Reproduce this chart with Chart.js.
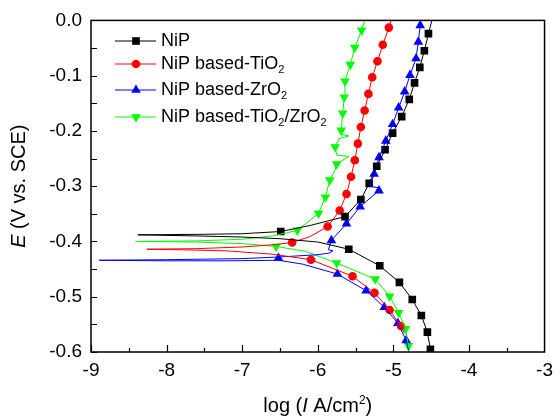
<!DOCTYPE html>
<html>
<head>
<meta charset="utf-8">
<script src="https://cdn.jsdelivr.net/npm/chart.js@4/dist/chart.umd.min.js"></script>
<style>
  html, body { margin: 0; padding: 0; background: #fff; }
</style>
</head>
<body>
<canvas id="chart" width="560" height="416"></canvas>
<script>
// Tick values
const xTicks = [-9, -8, -7, -6, -5, -4, -3];
const yTicks = [0, -0.1, -0.2, -0.3, -0.4, -0.5, -0.6];

// Series names (subscript digits handled when drawing the legend)
const seriesNames = ['NiP', 'NiP based-TiO_2', 'NiP based-ZrO_2', 'NiP based-TiO_2/ZrO_2'];

// NiP - curve (cathodic -> Ecorr -> anodic)
const nipX = [-4.50, -4.51, -4.55, -4.63, -4.75, -4.92, -5.18, -5.59, -6.0, -6.5, -7.0, -7.6, -8.38,
  -7.5, -7.0, -6.49, -6.1, -5.64, -5.43, -5.32, -5.22, -5.11, -5.01, -4.89, -4.79, -4.72, -4.65, -4.59, -4.536, -4.49];
const nipY = [-0.600, -0.595, -0.564, -0.534, -0.505, -0.474, -0.444, -0.414, -0.401, -0.395, -0.392, -0.390, -0.388,
  -0.387, -0.386, -0.382, -0.371, -0.355, -0.324, -0.295, -0.264, -0.234, -0.204, -0.174, -0.143, -0.113, -0.085, -0.055, -0.024, 0];
const nipMarkX = [-4.51, -4.55, -4.63, -4.75, -4.92, -5.18, -5.59, -6.49, -5.64, -5.43, -5.32, -5.22, -5.11, -5.01, -4.89, -4.79, -4.72, -4.65, -4.59, -4.536];
const nipMarkY = [-0.595, -0.564, -0.534, -0.505, -0.474, -0.444, -0.414, -0.382, -0.355, -0.324, -0.295, -0.264, -0.234, -0.204, -0.174, -0.143, -0.113, -0.085, -0.055, -0.024];

// NiP based-TiO2
const tiX = [-4.86, -4.90, -5.05, -5.25, -5.54, -6.09, -6.6, -7.2, -7.8, -8.26,
  -7.6, -7.0, -6.6, -6.34, -6.1, -5.87, -5.71, -5.62, -5.56, -5.51, -5.47, -5.43, -5.38, -5.33, -5.28, -5.21, -5.14, -5.06, -5.03];
const tiY = [-0.565, -0.553, -0.524, -0.493, -0.463, -0.433, -0.423, -0.417, -0.415, -0.414,
  -0.413, -0.410, -0.406, -0.402, -0.391, -0.373, -0.344, -0.314, -0.283, -0.253, -0.223, -0.193, -0.163, -0.133, -0.103, -0.074, -0.044, -0.013, 0];
const tiMarkX = [-4.90, -5.05, -5.25, -5.54, -6.09, -6.34, -5.87, -5.71, -5.62, -5.56, -5.51, -5.47, -5.43, -5.38, -5.33, -5.28, -5.21, -5.14, -5.06];
const tiMarkY = [-0.553, -0.524, -0.493, -0.463, -0.433, -0.402, -0.373, -0.344, -0.314, -0.283, -0.253, -0.223, -0.193, -0.163, -0.133, -0.103, -0.074, -0.044, -0.013];

// NiP based-ZrO2
const zrX = [-4.80, -4.83, -4.94, -5.12, -5.36, -5.74, -6.2, -6.52, -7.2, -8.0, -8.89,
  -8.0, -7.0, -6.5, -6.0, -5.85, -5.80, -5.86, -5.82, -5.62, -5.44, -5.19, -5.20, -5.31, -5.254, -5.19, -5.10, -5.01, -4.93, -4.85, -4.78, -4.70, -4.67, -4.645, -4.64];
const zrY = [-0.597, -0.579, -0.548, -0.519, -0.489, -0.459, -0.441, -0.434, -0.435, -0.435, -0.434,
  -0.433, -0.431, -0.428, -0.424, -0.421, -0.417, -0.415, -0.398, -0.368, -0.337, -0.308, -0.303, -0.300, -0.278, -0.248, -0.218, -0.188, -0.158, -0.129, -0.099, -0.069, -0.039, -0.009, 0];
const zrMarkX = [-4.83, -4.94, -5.12, -5.36, -5.74, -6.52, -5.82, -5.62, -5.44, -5.19, -5.254, -5.19, -5.10, -5.01, -4.93, -4.85, -4.78, -4.70, -4.67, -4.645];
const zrMarkY = [-0.579, -0.548, -0.519, -0.489, -0.459, -0.430, -0.398, -0.368, -0.337, -0.308, -0.278, -0.248, -0.218, -0.188, -0.158, -0.129, -0.099, -0.069, -0.039, -0.009];

// NiP based-TiO2/ZrO2
const tzX = [-4.79, -4.80, -4.84, -4.93, -5.05, -5.24, -5.75, -6.16, -6.55, -7.0, -7.6, -8.41,
  -7.6, -7.0, -6.6, -6.27, -5.99, -5.90, -5.84, -5.77, -5.75, -5.59, -5.75, -5.77, -5.72, -5.59, -5.70, -5.69, -5.67, -5.65, -5.64, -5.57, -5.51, -5.42, -5.38];
const tzY = [-0.600, -0.589, -0.558, -0.529, -0.499, -0.468, -0.439, -0.418, -0.409, -0.404, -0.401, -0.400,
  -0.399, -0.396, -0.390, -0.380, -0.349, -0.320, -0.289, -0.270, -0.260, -0.246, -0.244, -0.229, -0.214, -0.209, -0.206, -0.199, -0.168, -0.139, -0.110, -0.080, -0.049, -0.018, 0];
const tzMarkX = [-4.80, -4.84, -4.93, -5.05, -5.24, -5.75, -6.55, -6.27, -5.99, -5.90, -5.84, -5.75, -5.77, -5.69, -5.67, -5.65, -5.64, -5.57, -5.51, -5.42];
const tzMarkY = [-0.589, -0.558, -0.529, -0.499, -0.468, -0.439, -0.409, -0.380, -0.349, -0.320, -0.289, -0.260, -0.229, -0.199, -0.168, -0.139, -0.110, -0.080, -0.049, -0.018];

const FONT = '"Liberation Sans", Arial, sans-serif';

function pts(xs, ys) {
  return xs.map((x, i) => ({ x: x, y: ys[i] }));
}

const styles = [
  { color: '#000000', pointStyle: 'rect', radius: 5.4, rotation: 0 },
  { color: '#ff0000', pointStyle: 'circle', radius: 4.3, rotation: 0 },
  { color: '#0000ff', pointStyle: 'triangle', radius: 5.6, rotation: 0 },
  { color: '#00ff00', pointStyle: 'triangle', radius: 5.6, rotation: 180 }
];

const lines = [pts(nipX, nipY), pts(tiX, tiY), pts(zrX, zrY), pts(tzX, tzY)];
const marks = [pts(nipMarkX, nipMarkY), pts(tiMarkX, tiMarkY), pts(zrMarkX, zrMarkY), pts(tzMarkX, tzMarkY)];

const datasets = [];
lines.forEach((d, i) => {
  datasets.push({
    label: seriesNames[i] + ' line',
    data: d,
    showLine: true,
    borderColor: styles[i].color,
    borderWidth: 1,
    pointRadius: 0,
    tension: 0
  });
});
marks.forEach((d, i) => {
  datasets.push({
    label: seriesNames[i],
    data: d,
    showLine: false,
    pointStyle: styles[i].pointStyle,
    pointRotation: styles[i].rotation,
    pointRadius: styles[i].radius,
    pointBackgroundColor: styles[i].color,
    pointBorderColor: styles[i].color,
    pointBorderWidth: 0
  });
});

// draw text with "_2" as subscript, returns width
function richText(ctx, str, x, y, size, draw) {
  const parts = str.split(/(_\d)/);
  let cx = x;
  parts.forEach(p => {
    if (!p) return;
    if (p[0] === '_') {
      ctx.font = Math.round(size * 0.62) + 'px ' + FONT;
      if (draw) ctx.fillText(p.slice(1), cx, y + size * 0.33);
      cx += ctx.measureText(p.slice(1)).width;
    } else {
      ctx.font = size + 'px ' + FONT;
      if (draw) ctx.fillText(p, cx, y);
      cx += ctx.measureText(p).width;
    }
  });
  return cx - x;
}

const decorations = {
  id: 'decorations',
  afterDatasetsDraw(chart) {
    const ctx = chart.ctx;
    const a = chart.chartArea;
    const xs = chart.scales.x;
    const ys = chart.scales.y;
    ctx.save();
    ctx.strokeStyle = '#000';
    // frame
    ctx.lineWidth = 1.5;
    ctx.strokeRect(a.left, a.top, a.right - a.left, a.bottom - a.top);
    // inward ticks on bottom and left
    ctx.lineWidth = 1.2;
    ctx.beginPath();
    for (let v = -9; v <= -3.001; v += 0.5) {
      const px = Math.round(xs.getPixelForValue(v)) + 0.5;
      const len = Math.abs(v - Math.round(v)) < 0.01 ? 7 : 4;
      ctx.moveTo(px, a.bottom);
      ctx.lineTo(px, a.bottom - len);
    }
    for (let k = 0; k <= 12; k++) {
      const v = -0.6 + k * 0.05;
      const py = Math.round(ys.getPixelForValue(v)) + 0.5;
      ctx.moveTo(a.left, py);
      ctx.lineTo(a.left + 6, py);
    }
    ctx.stroke();

    // legend
    const rows = [41, 64, 90, 117];
    ctx.fillStyle = '#000';
    ctx.textBaseline = 'middle';
    ctx.textAlign = 'left';
    rows.forEach((ry, i) => {
      const st = styles[i];
      ctx.strokeStyle = st.color;
      ctx.lineWidth = 1;
      ctx.beginPath();
      ctx.moveTo(115, ry);
      ctx.lineTo(156, ry);
      ctx.stroke();
      ctx.fillStyle = st.color;
      Chart.helpers.drawPoint(ctx, {
        pointStyle: st.pointStyle, radius: st.radius, rotation: st.rotation, borderWidth: 0
      }, 136, ry);
      ctx.fillStyle = '#000';
      richText(ctx, seriesNames[i], 161, ry, 18, true);
    });

    // x title: log (I A/cm2)
    ctx.fillStyle = '#000';
    ctx.textBaseline = 'alphabetic';
    const tsize = 20;
    const seg = [
      { t: 'log (', f: tsize + 'px ' + FONT, dy: 0 },
      { t: 'I', f: 'italic ' + tsize + 'px ' + FONT, dy: 0 },
      { t: ' A/cm', f: tsize + 'px ' + FONT, dy: 0 },
      { t: '2', f: Math.round(tsize * 0.62) + 'px ' + FONT, dy: -8 },
      { t: ')', f: tsize + 'px ' + FONT, dy: 0 }
    ];
    let w = 0;
    seg.forEach(s => { ctx.font = s.f; w += ctx.measureText(s.t).width; });
    let cx = (a.left + a.right) / 2 - w / 2;
    seg.forEach(s => { ctx.font = s.f; ctx.fillText(s.t, cx, 412 + s.dy); cx += ctx.measureText(s.t).width; });

    // y title: E (V vs. SCE)
    ctx.translate(25, (a.top + a.bottom) / 2);
    ctx.rotate(-Math.PI / 2);
    const yseg = [
      { t: 'E', f: 'italic ' + tsize + 'px ' + FONT },
      { t: ' (V vs. SCE)', f: tsize + 'px ' + FONT }
    ];
    w = 0;
    yseg.forEach(s => { ctx.font = s.f; w += ctx.measureText(s.t).width; });
    cx = -w / 2;
    yseg.forEach(s => { ctx.font = s.f; ctx.fillText(s.t, cx, 0); cx += ctx.measureText(s.t).width; });
    ctx.restore();
  }
};

new Chart(document.getElementById('chart'), {
  type: 'scatter',
  data: { datasets: datasets },
  options: {
    responsive: false,
    animation: false,
    layout: { padding: { top: 14, right: 13, left: 0, bottom: 0 } },
    plugins: { legend: { display: false }, tooltip: { enabled: false } },
    scales: {
      x: {
        type: 'linear',
        min: -9,
        max: -3,
        afterFit: s => { s.height = 64; },
        afterBuildTicks: s => { s.ticks = xTicks.map(v => ({ value: v })); },
        grid: { display: false, drawTicks: false },
        border: { display: false },
        ticks: {
          padding: 7,
          color: '#000',
          font: { family: FONT, size: 19 },
          callback: v => String(v)
        }
      },
      y: {
        type: 'linear',
        min: -0.6,
        max: 0,
        afterFit: s => { s.width = 91; },
        afterBuildTicks: s => { s.ticks = yTicks.map(v => ({ value: v })); },
        grid: { display: false, drawTicks: false },
        border: { display: false },
        ticks: {
          padding: 9,
          color: '#000',
          font: { family: FONT, size: 19 },
          callback: v => (Math.abs(v) < 1e-9 ? 0 : v).toFixed(1)
        }
      }
    }
  },
  plugins: [decorations]
});
</script>
</body>
</html>
